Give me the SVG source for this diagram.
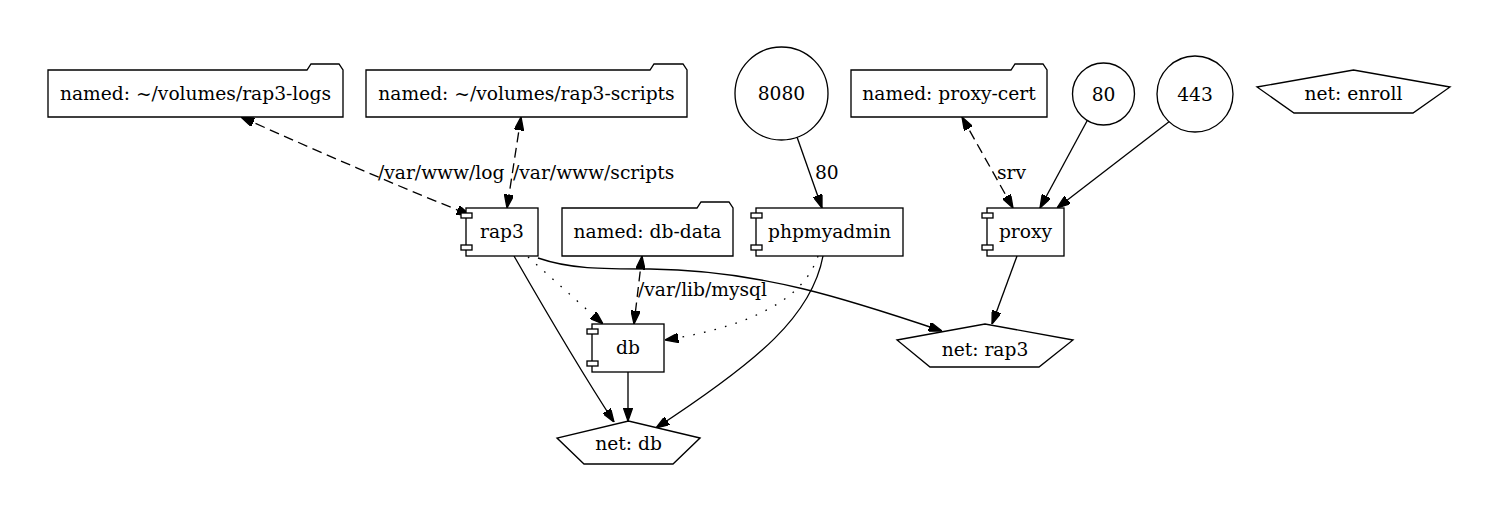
<svg xmlns="http://www.w3.org/2000/svg" width="1498" height="517" viewBox="0 0 1498 517">
<defs>
<marker id="arr" viewBox="0 0 13.3 9.34" markerWidth="13.3" markerHeight="9.34" refX="13.3" refY="4.67" orient="auto-start-reverse" markerUnits="userSpaceOnUse">
<path d="M0,0 L13.3,4.67 L0,9.34 Z" fill="#000" stroke="#000" stroke-width="1.33" stroke-dasharray="none"/>
</marker>
<style>
text{font-family:"DejaVu Serif","Liberation Serif",serif;font-size:18.67px;fill:#000;text-anchor:middle}
.shape{fill:#fff;stroke:#000;stroke-width:1.33}
.edge{fill:none;stroke:#000;stroke-width:1.33;marker-end:url(#arr)}
.both{marker-start:url(#arr)}
.dashed{stroke-dasharray:10,5.6}
.dotted{stroke-dasharray:1.6,9.3}
.lbl{text-anchor:start}
</style>
</defs>
<rect width="1498" height="517" fill="#fff"/>
<g id="edges">
<path class="edge both dashed" d="M241,117 C320,152 390,183 470,215"/>
<text class="lbl" x="378" y="179">/var/www/log</text>
<path class="edge both dashed" d="M521,117 L507,208"/>
<text class="lbl" x="513" y="179">/var/www/scripts</text>
<path class="edge both dashed" d="M642,256 L634,324"/>
<text class="lbl" x="638" y="296">/var/lib/mysql</text>
<path class="edge" d="M797,137 L822,208"/>
<text class="lbl" x="815" y="179">80</text>
<path class="edge both dashed" d="M962,117 L1013,208"/>
<text class="lbl" x="997" y="179">srv</text>
<path class="edge" d="M1087,121 L1040,208"/>
<path class="edge" d="M1170,121 L1057,208"/>
<path class="edge" d="M538,258 C570,269 600,269 650,269 C760,270 850,300 942,331"/>
<path class="edge dotted" d="M528,257 L603,324"/>
<path class="edge" d="M514,256 C545,310 580,370 614,422"/>
<path class="edge dotted" d="M818,256 C805,295 760,325 665,340"/>
<path class="edge" d="M823,256 C812,315 760,360 656,428"/>
<path class="edge" d="M628,372 L628,421"/>
<path class="edge" d="M1017,256 L992,324"/>
</g>
<g id="rap3-logs">
<path class="shape" d="M343,117 L48,117 L48,70 L307,70 L311,64 L339,64 L343,70 Z"/>
<text x="195.5" y="99.5">named: ~/volumes/rap3-logs</text>
</g>
<g id="rap3-scripts">
<path class="shape" d="M687,117 L366,117 L366,70 L650,70 L654,64 L683,64 L687,70 Z"/>
<text x="526.5" y="99.5">named: ~/volumes/rap3-scripts</text>
</g>
<g id="port-8080">
<circle class="shape" cx="781.5" cy="93.5" r="46.5"/>
<text x="781.5" y="100">8080</text>
</g>
<g id="proxy-cert">
<path class="shape" d="M1047,117 L851,117 L851,70 L1011,70 L1015,64 L1043,64 L1047,70 Z"/>
<text x="949" y="99.5">named: proxy-cert</text>
</g>
<g id="port-80">
<circle class="shape" cx="1103.5" cy="94" r="31"/>
<text x="1103.5" y="100.5">80</text>
</g>
<g id="port-443">
<circle class="shape" cx="1195" cy="94" r="38"/>
<text x="1195" y="100.5">443</text>
</g>
<g id="net-enroll">
<polygon class="shape" points="1450,87 1353.5,70 1257,87 1294,113 1413,113"/>
<text x="1353.5" y="99.5">net: enroll</text>
</g>
<g id="rap3">
<rect class="shape" x="466" y="208" width="72" height="48"/>
<rect class="shape" x="461" y="213" width="11" height="5"/>
<rect class="shape" x="461" y="245" width="11" height="5"/>
<text x="502" y="238">rap3</text>
</g>
<g id="db-data">
<path class="shape" d="M733,256 L562,256 L562,208 L697,208 L701,202 L729,202 L733,208 Z"/>
<text x="647.5" y="238">named: db-data</text>
</g>
<g id="phpmyadmin">
<rect class="shape" x="756" y="208" width="147" height="48"/>
<rect class="shape" x="751" y="213" width="11" height="5"/>
<rect class="shape" x="751" y="245" width="11" height="5"/>
<text x="829.5" y="238">phpmyadmin</text>
</g>
<g id="proxy">
<rect class="shape" x="987" y="208" width="77" height="48"/>
<rect class="shape" x="982" y="213" width="11" height="5"/>
<rect class="shape" x="982" y="245" width="11" height="5"/>
<text x="1025.5" y="238">proxy</text>
</g>
<g id="db">
<rect class="shape" x="592" y="324" width="72" height="48"/>
<rect class="shape" x="587" y="329" width="11" height="5"/>
<rect class="shape" x="587" y="361" width="11" height="5"/>
<text x="628" y="354">db</text>
</g>
<g id="net-rap3">
<polygon class="shape" points="1073,340 985,324 897,340 930,367 1039,367"/>
<text x="985" y="356">net: rap3</text>
</g>
<g id="net-db">
<polygon class="shape" points="700,438 628.5,421 557,438 584,464 673,464"/>
<text x="628.5" y="450">net: db</text>
</g>
</svg>
